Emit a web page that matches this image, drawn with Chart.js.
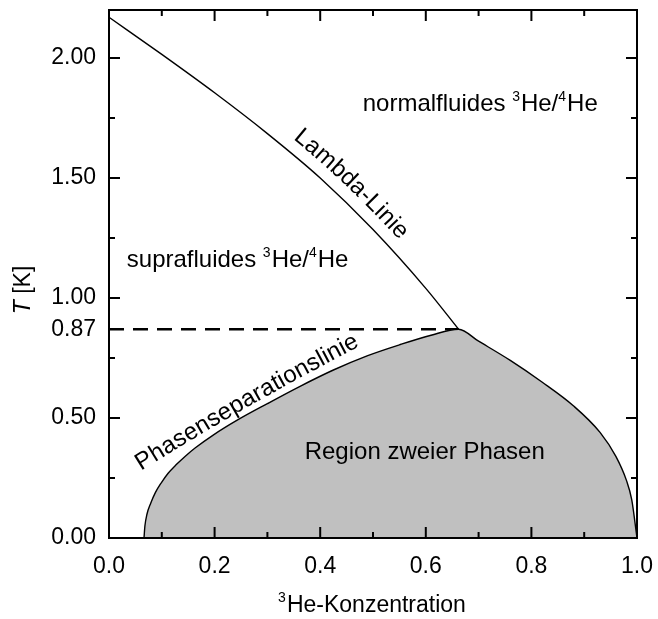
<!DOCTYPE html>
<html><head><meta charset="utf-8">
<script src="https://cdn.jsdelivr.net/npm/chart.js@4.4.1/dist/chart.umd.min.js"></script>
<style>html,body{margin:0;padding:0;background:#fff;}</style>
</head><body>
<canvas id="c" width="658" height="619"></canvas>
<script>
// ---- data ----
const lambdaX = [0, 0.1, 0.2, 0.3, 0.4, 0.5, 0.6, 0.662];
const lambdaT = [2.17, 2.015, 1.855, 1.685, 1.50, 1.285, 1.04, 0.87];
const phaseX = [0.0663, 0.068, 0.072, 0.079, 0.088, 0.099, 0.112, 0.127, 0.144, 0.163, 0.198, 0.242, 0.30, 0.36, 0.425, 0.49, 0.55, 0.61, 0.662, 0.70, 0.76, 0.82, 0.88, 0.93, 0.96, 0.98, 0.99, 1.0];
const phaseT = [0, 0.05, 0.10, 0.145, 0.19, 0.23, 0.27, 0.305, 0.34, 0.375, 0.43, 0.49, 0.56, 0.63, 0.70, 0.76, 0.805, 0.845, 0.87, 0.82, 0.74, 0.65, 0.55, 0.44, 0.34, 0.24, 0.16, 0.0];
const tricritX = [0, 0.662];
const tricritT = [0.87, 0.87];
const xTicks = [0, 0.2, 0.4, 0.6, 0.8, 1.0];
const xMinorTicks = [0.1, 0.3, 0.5, 0.7, 0.9];
const yTickLabels = [0, 0.5, 0.87, 1.0, 1.5, 2.0];
const yMajorTicks = [0, 0.5, 1.0, 1.5, 2.0];
const yMinorTicks = [0.25, 0.75, 1.25, 1.75];

// ---- texts ----
const FAM = '"Liberation Sans", Arial, sans-serif';
const freeTexts = [
  {parts: [['normalfluides ', 0], ['3', 1], ['He/', 0], ['4', 1], ['He', 0]], x: 0.4806, y: 1.778},
  {parts: [['suprafluides ', 0], ['3', 1], ['He/', 0], ['4', 1], ['He', 0]], x: 0.0337, y: 1.128},
  {parts: [['Region zweier Phasen', 0]], x: 0.3706, y: 0.329}
];
// label along the lambda line (follows the dataset curve)
const lambdaLabel = {text: 'Lambda-Linie', dataset: 1, centerX: 0.437, offset: 12};
// label along the phase-separation line: baseline guide (start, middle, end) in data units
const phaseLabel = {text: 'Phasenseparationslinie', guide: [[0.0606, 0.280], [0.2652, 0.549], [0.4754, 0.800]]};

const toXY = (xs, ys) => xs.map((v, i) => ({x: v, y: ys[i]}));

function samplePath(meta) {
  const pts = meta.data, out = [];
  for (let i = 0; i < pts.length - 1; i++) {
    const a = pts[i], b = pts[i + 1];
    const c1x = a.cp2x ?? a.x, c1y = a.cp2y ?? a.y, c2x = b.cp1x ?? b.x, c2y = b.cp1y ?? b.y;
    for (let k = 0; k < 24; k++) {
      const t = k / 24, u = 1 - t;
      out.push({
        x: u*u*u*a.x + 3*u*u*t*c1x + 3*u*t*t*c2x + t*t*t*b.x,
        y: u*u*u*a.y + 3*u*u*t*c1y + 3*u*t*t*c2y + t*t*t*b.y
      });
    }
  }
  const l = pts[pts.length - 1];
  out.push({x: l.x, y: l.y});
  return out;
}

function quadGuide(p0, pm, p2) {
  const c = {x: 2*pm.x - (p0.x + p2.x)/2, y: 2*pm.y - (p0.y + p2.y)/2};
  const out = [];
  for (let k = 0; k <= 100; k++) {
    const t = k / 100, u = 1 - t;
    out.push({x: u*u*p0.x + 2*u*t*c.x + t*t*p2.x, y: u*u*p0.y + 2*u*t*c.y + t*t*p2.y});
  }
  return out;
}

function pathTools(path) {
  const cum = [0];
  for (let i = 1; i < path.length; i++) cum.push(cum[i-1] + Math.hypot(path[i].x - path[i-1].x, path[i].y - path[i-1].y));
  const pos = s => {
    let i = 0;
    while (i < path.length - 2 && cum[i+1] < s) i++;
    const f = (s - cum[i]) / Math.max(1e-6, cum[i+1] - cum[i]);
    return {x: path[i].x + f*(path[i+1].x - path[i].x), y: path[i].y + f*(path[i+1].y - path[i].y)};
  };
  return {cum, pos, total: cum[cum.length - 1]};
}

function layChars(ctx, tools, text, sStart, offset, stretch) {
  const widths = [...text].map(ch => ctx.measureText(ch).width);
  let s = sStart;
  [...text].forEach((ch, k) => {
    const w = widths[k] * stretch;
    const p = tools.pos(s + w / 2);
    const p1 = tools.pos(s + w / 2 - 4), p2 = tools.pos(s + w / 2 + 4);
    const a = Math.atan2(p2.y - p1.y, p2.x - p1.x);
    const nx = Math.sin(a), ny = -Math.cos(a);
    ctx.save();
    ctx.translate(p.x + nx * offset, p.y + ny * offset);
    ctx.rotate(a);
    ctx.fillText(ch, -widths[k] / 2, 0);
    ctx.restore();
    s += w;
  });
}

function drawParts(ctx, parts, x, y, size) {
  let cx = x;
  parts.forEach(([t, sup]) => {
    ctx.font = (sup ? Math.round(size * 0.6) : size) + 'px ' + FAM;
    ctx.fillText(t, cx, sup ? y - size * 0.42 : y);
    cx += ctx.measureText(t).width + (sup ? 1 : 0);
  });
}

const noPad = s => { s.paddingTop = 0; s.paddingBottom = 0; s.paddingLeft = 0; s.paddingRight = 0; };

const framePlugin = {
  id: 'frame',
  afterDatasetsDraw(chart) {
    const ctx = chart.ctx, xs = chart.scales.x, ys = chart.scales.y;
    const px = ([x, y]) => ({x: xs.getPixelForValue(x), y: ys.getPixelForValue(y)});
    ctx.save();
    ctx.fillStyle = '#000';
    ctx.textBaseline = 'alphabetic';
    freeTexts.forEach(t => drawParts(ctx, t.parts, xs.getPixelForValue(t.x), ys.getPixelForValue(t.y), 24));
    ctx.font = '24px ' + FAM;
    {
      const path = samplePath(chart.getDatasetMeta(lambdaLabel.dataset));
      const tools = pathTools(path);
      const cpx = xs.getPixelForValue(lambdaLabel.centerX);
      let sc = 0;
      for (let i = 1; i < path.length; i++) {
        if (path[i].x >= cpx) {
          const f = (cpx - path[i-1].x) / Math.max(1e-6, path[i].x - path[i-1].x);
          sc = tools.cum[i-1] + f * (tools.cum[i] - tools.cum[i-1]);
          break;
        }
      }
      const total = [...lambdaLabel.text].reduce((a, ch) => a + ctx.measureText(ch).width, 0);
      layChars(ctx, tools, lambdaLabel.text, sc - total / 2, lambdaLabel.offset, 1);
    }
    {
      const g = phaseLabel.guide.map(px);
      const tools = pathTools(quadGuide(g[0], g[1], g[2]));
      const total = [...phaseLabel.text].reduce((a, ch) => a + ctx.measureText(ch).width, 0);
      layChars(ctx, tools, phaseLabel.text, 0, 0, tools.total / total);
    }
    ctx.restore();
  },
  afterDraw(chart) {
    const ctx = chart.ctx, a = chart.chartArea, xs = chart.scales.x, ys = chart.scales.y;
    ctx.save();
    ctx.strokeStyle = '#000';
    ctx.lineWidth = 2;
    ctx.strokeRect(a.left, a.top, a.right - a.left, a.bottom - a.top);
    ctx.beginPath();
    const tx = (v, len) => { const p = xs.getPixelForValue(v);
      ctx.moveTo(p, a.bottom); ctx.lineTo(p, a.bottom - len);
      ctx.moveTo(p, a.top); ctx.lineTo(p, a.top + len); };
    const ty = (v, len) => { const p = ys.getPixelForValue(v);
      ctx.moveTo(a.left, p); ctx.lineTo(a.left + len, p);
      ctx.moveTo(a.right, p); ctx.lineTo(a.right - len, p); };
    xTicks.forEach(v => tx(v, 11)); xMinorTicks.forEach(v => tx(v, 6));
    yMajorTicks.forEach(v => ty(v, 11)); yMinorTicks.forEach(v => ty(v, 6));
    ctx.stroke();
    ctx.fillStyle = '#000';
    ctx.textBaseline = 'alphabetic';
    const main = 'He-Konzentration';
    ctx.font = '14px ' + FAM; const wSup = ctx.measureText('3').width;
    ctx.font = '23px ' + FAM; const wMain = ctx.measureText(main).width;
    const cx = (a.left + a.right) / 2 - 1;
    let x0 = cx - (wSup + 1 + wMain) / 2;
    ctx.font = '14px ' + FAM; ctx.fillText('3', x0, 602);
    ctx.font = '23px ' + FAM; ctx.fillText(main, x0 + wSup + 1, 612);
    ctx.translate(30, 290);
    ctx.rotate(-Math.PI / 2);
    ctx.font = 'italic 23px ' + FAM; const wT = ctx.measureText('T').width;
    ctx.font = '23px ' + FAM; const wR = ctx.measureText(' [K]').width;
    let y0 = -(wT + wR) / 2;
    ctx.font = 'italic 23px ' + FAM; ctx.fillText('T', y0, 0);
    ctx.font = '23px ' + FAM; ctx.fillText(' [K]', y0 + wT, 0);
    ctx.restore();
  }
};

new Chart(document.getElementById('c'), {
  type: 'scatter',
  data: {
    datasets: [
      {label: 'Phasenseparationslinie', data: toXY(phaseX, phaseT), showLine: true, fill: 'origin',
       backgroundColor: '#c0c0c0', borderColor: '#000', borderWidth: 1.4, pointRadius: 0, cubicInterpolationMode: 'monotone'},
      {label: 'Lambda-Linie', data: toXY(lambdaX, lambdaT), showLine: true, fill: false,
       borderColor: '#000', borderWidth: 1.4, pointRadius: 0, cubicInterpolationMode: 'monotone'},
      {label: '0.87 K', data: toXY(tricritX, tricritT), showLine: true, fill: false,
       borderColor: '#000', borderWidth: 2.6, borderDash: [15, 9], pointRadius: 0}
    ]
  },
  options: {
    responsive: false, animation: false, devicePixelRatio: 1,
    layout: {padding: {top: 10, right: 21, left: 0, bottom: 0}},
    plugins: {legend: {display: false}, tooltip: {enabled: false}},
    scales: {
      x: {type: 'linear', min: 0, max: 1,
          grid: {display: false}, border: {display: false},
          afterBuildTicks: s => { s.ticks = xTicks.map(v => ({value: v})); },
          afterFit: s => { s.height = 81; noPad(s); },
          ticks: {autoSkip: false, maxRotation: 0, padding: 7, color: '#000',
                  font: {size: 23, family: FAM}, callback: v => Number(v).toFixed(1)}},
      y: {type: 'linear', min: 0, max: 2.2,
          grid: {display: false}, border: {display: false},
          afterBuildTicks: s => { s.ticks = yTickLabels.map(v => ({value: v})); },
          afterFit: s => { s.width = 109; noPad(s); },
          ticks: {autoSkip: false, padding: 5, color: '#000',
                  font: {size: 23, family: FAM}, callback: v => Number(v).toFixed(2)}}
    }
  },
  plugins: [framePlugin]
});
</script>
</body></html>
